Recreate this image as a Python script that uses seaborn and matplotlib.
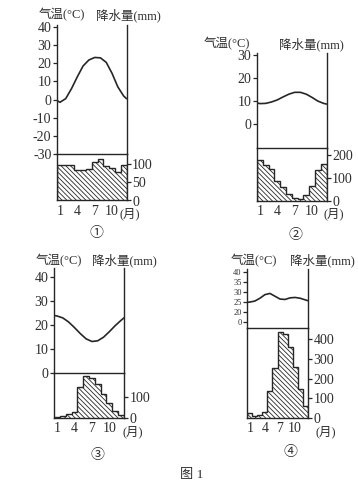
import numpy as np
import matplotlib
matplotlib.use("Agg")
import matplotlib.pyplot as plt
import seaborn as sns

# ---------------- data ----------------
months = list(range(1, 13))
month_tick_labels = ["1", "4", "7", "10"]
# temperature curve positions in month units (0.5 = left edge, 12.5 = right edge)
temp_month = [0.5] + months + [12.5]

temp_1 = [-0.5, -1.5, 0.5, 6, 12.5, 18.5, 21.8, 23.2, 23.0, 20.5, 14.5, 7, 2, 0.5]
temp_2 = [9.2, 8.9, 9.0, 9.6, 10.5, 11.8, 13.0, 13.8, 13.8, 13.0, 11.6, 10.0, 9.0, 8.7]
temp_3 = [24, 23.8, 23, 21.3, 19, 16.5, 14.3, 13.2, 13.5, 15, 17.3, 19.8, 22, 23]
temp_4 = [25, 25.1, 25.6, 27, 28.8, 29.4, 28, 26.6, 26.4, 27.2, 27.4, 27, 26.2, 25.8]

precip_1 = [97, 97, 96, 84, 84, 85, 105, 112, 95, 90, 78, 96]
precip_2 = [178, 155, 140, 85, 60, 30, 12, 8, 25, 65, 135, 160]
precip_3 = [5, 10, 18, 28, 145, 200, 190, 160, 112, 72, 32, 14]
precip_4 = [25, 10, 18, 30, 140, 255, 435, 425, 358, 260, 150, 60]

temp_ticks_1 = [40, 30, 20, 10, 0, -10, -20, -30]
temp_ticks_2 = [30, 20, 10, 0]
temp_ticks_3 = [40, 30, 20, 10, 0]
temp_ticks_4 = [40, 35, 30, 25, 20, 15]
temp_labels_4 = ["40", "35", "30", "25", "20", "0"]   # broken axis: "0" drawn below 20

precip_ticks_1 = [0, 50, 100]
precip_ticks_2 = [0, 100, 200]
precip_ticks_3 = [0, 100]
precip_ticks_4 = [0, 100, 200, 300, 400]

panel_names = ["①", "②", "③", "④"]
title_temp = "气温(°C)"
title_precip = "降水量(mm)"
month_unit = "(月)"
figure_title = "图 1"

# ---------------- style / layout ----------------
W, H = 358, 486
INK = "#262626"
TXT = "#2e2e2e"

sns.set_theme(style="white")
plt.rcParams["font.family"] = ["Liberation Serif", "Noto Sans CJK SC", "DejaVu Sans"]
plt.rcParams["hatch.linewidth"] = 0.6
plt.rcParams["hatch.color"] = INK

layout = [
    dict(left=57, right=126.5, top=25, div=154, bottom=200.5, tlim=(-30, 41.1), plim=(0, 127),
         tt=(61.5, 15), tp=(128.5, 15), unit=(130, 213.5), name=(96, 233), tfs=10),
    dict(left=257, right=326.5, top=53, div=148, bottom=201, tlim=(-10.4, 30.9), plim=(0, 230),
         tt=(227, 44), tp=(311, 44), unit=(334, 214), name=(295, 235), tfs=10),
    dict(left=54, right=124, top=268, div=373.3, bottom=418.3, tlim=(0, 43.7), plim=(0, 211),
         tt=(59, 260.5), tp=(124.5, 260.5), unit=(133, 431.5), name=(97, 455), tfs=10),
    dict(left=247.3, right=307.7, top=269, div=328.3, bottom=418.3, tlim=(12, 41.6), plim=(0, 454),
         tt=(254, 260.5), tp=(322.5, 260.5), unit=(326, 431.5), name=(290, 452), tfs=6),
]

temps = [temp_1, temp_2, temp_3, temp_4]
precips = [precip_1, precip_2, precip_3, precip_4]
tticks = [temp_ticks_1, temp_ticks_2, temp_ticks_3, temp_ticks_4]
tlabels = [[str(v) for v in temp_ticks_1], [str(v) for v in temp_ticks_2],
           [str(v) for v in temp_ticks_3], temp_labels_4]
pticks = [precip_ticks_1, precip_ticks_2, precip_ticks_3, precip_ticks_4]

fig = plt.figure(figsize=(W / 100, H / 100), dpi=100)
fig.patch.set_facecolor("white")


def rect(l, r, t, b):
    return [l / W, 1 - b / H, (r - l) / W, (b - t) / H]


def fx(x):
    return x / W


def fy(y):
    return 1 - y / H


xpos = np.array(temp_month) - 1  # categorical index space used by barplot
for i, L in enumerate(layout):
    axT = fig.add_axes(rect(L["left"], L["right"], L["top"], L["div"]))
    axP = fig.add_axes(rect(L["left"], L["right"], L["div"], L["bottom"]))
    for ax in (axT, axP):
        ax.set_facecolor("none")
        for s in ax.spines.values():
            s.set_color(INK)
            s.set_linewidth(1.0)

    # temperature
    sns.lineplot(x=xpos, y=temps[i], ax=axT, color=INK, linewidth=1.2, sort=False,
                 estimator=None)
    axT.set_xlim(-0.5, 11.5)
    axT.set_ylim(*L["tlim"])
    axT.spines["top"].set_visible(False)
    axT.set_xticks([])
    axT.set_yticks(tticks[i])
    axT.set_yticklabels(tlabels[i])
    axT.tick_params(axis="y", left=True, direction="out", length=3, width=0.9,
                    color=INK, labelsize=L["tfs"], labelcolor=TXT, pad=1)
    axT.set_xlabel("")
    axT.set_ylabel("")

    # precipitation
    sns.barplot(x=months, y=precips[i], ax=axP, width=1, color="white",
                edgecolor=INK, linewidth=0, hatch="\\" * 7, saturation=1)
    axP.stairs(precips[i], np.arange(13) - 0.5, baseline=0, color=INK, linewidth=1.0)
    axP.set_xlim(-0.5, 11.5)
    axP.set_ylim(*L["plim"])
    axP.spines["top"].set_visible(False)
    axP.yaxis.tick_right()
    axP.set_yticks(pticks[i])
    axP.set_yticklabels([str(v) for v in pticks[i]])
    axP.tick_params(axis="y", right=True, left=False, direction="out", length=3, width=0.9,
                    color=INK, labelsize=10, labelcolor=TXT, pad=1)
    axP.set_xticks([0, 3, 6, 9])
    axP.set_xticklabels(month_tick_labels)
    axP.tick_params(axis="x", bottom=True, length=0, labelsize=10, labelcolor=TXT, pad=3)
    axP.set_xlabel("")
    axP.set_ylabel("")

    fig.text(fx(L["tt"][0]), fy(L["tt"][1]), title_temp, ha="center", va="center",
             fontsize=9, color=TXT)
    fig.text(fx(L["tp"][0]), fy(L["tp"][1]), title_precip, ha="center", va="center",
             fontsize=9, color=TXT)
    fig.text(fx(L["unit"][0]), fy(L["unit"][1]), month_unit, ha="center", va="center",
             fontsize=9, color=TXT)
    fig.text(fx(L["name"][0]), fy(L["name"][1]), panel_names[i], ha="center", va="center",
             fontsize=10, color=TXT)

fig.text(fx(192), fy(475), figure_title, ha="center", va="center", fontsize=9.5, color=TXT)

fig.savefig("out.png", dpi=100, facecolor="white")
